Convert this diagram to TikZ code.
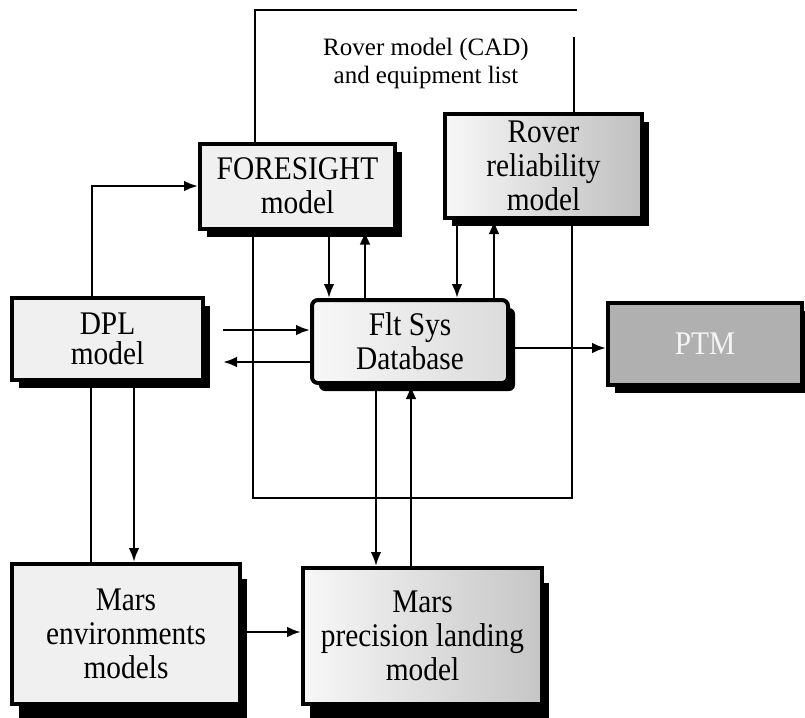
\documentclass[tikz,border=0pt]{standalone}
\usepackage{fontspec}
\setmainfont{Liberation Serif}[FakeStretch=0.89]
\newfontfamily\notefont{Liberation Serif}
\usepackage{tikz}
\usetikzlibrary{arrows.meta,shadows}

\begin{document}
\begin{tikzpicture}
[x=0.5pt,y=-0.5pt,line width=1.3pt,>={Latex[length=7pt,width=5.4pt]}]
\tikzset{
	block/.style = {draw, line width=2pt, fill=gray!12, align=center, inner sep=0pt,
		font=\fontsize{16.5}{17}\selectfont,
		drop shadow={shadow xshift=3.5pt, shadow yshift=#1, fill=black, opacity=1}},
	block/.default = -4pt,
	darkside/.style = {shade, left color=gray!6, right color=gray!#1},
	note/.style = {align=center, font=\notefont\fontsize{12.5}{14}\selectfont}
}
\useasboundingbox (0,0) rectangle (805,718);

\node (fore) [block, minimum width=97.5pt, minimum height=42.5pt] at (297.5,186) {FORESIGHT\\model};
\node (rover) [block, darkside=50, minimum width=98.5pt, minimum height=52pt] at (543.5,166) {Rover\\reliability\\model};
\node (dpl) [block, minimum width=95.5pt, minimum height=41pt, font=\fontsize{16.5}{15}\selectfont] at (107.5,339) {DPL\\model};
\node (flt) [block, darkside=28, rounded corners=3pt, minimum width=98pt, minimum height=41.5pt] at (410,341.5) {Flt Sys\\Database};
\node (ptm) [block, fill=gray!62, text=gray!8, minimum width=97pt, minimum height=41pt] at (705,344) {PTM};
\node (env) [block=-7.5pt, minimum width=114pt, minimum height=70pt] at (126,634) {Mars\\environments\\models};
\node (land) [block=-7.5pt, darkside=45, minimum width=119.5pt, minimum height=68pt] at (422.5,636) {Mars\\precision landing\\model};
\node (cad) [note] at (426,63) {Rover model (CAD)\\and equipment list};

\coordinate (capL) at (577,10);
\coordinate (capR) at (574,37);
\coordinate (loopL) at (253,498);
\coordinate (loopR) at (572,498);

\draw (fore.north -| 255,0) |- (capL);
\draw [line width=0.8pt] (capR) -- (rover.north -| capR);
\draw (fore.south -| loopL) -- (loopL) -- (loopR) -- (rover.south -| loopR);

\draw [->] (dpl.north -| 92,0) |- (fore.west);
\draw [->] (fore.south -| 329,0) -- (flt.north -| 329,0);
\draw [->] (flt.north -| 365,0) -- (fore.south -| 365,0);
\draw [->] (rover.south -| 457,0) -- (flt.north -| 457,0);
\draw [->] (flt.north -| 494,0) -- (rover.south -| 494,0);
\draw [->, shorten <=9pt] (dpl.east |- 0,330) -- (flt.west |- 0,330);
\draw [->, shorten >=9pt] (flt.west |- 0,362) -- (dpl.east |- 0,362);
\draw [->] (flt.east |- 0,348) -- (ptm.west |- 0,348);
\draw (dpl.south -| 91,0) -- (env.north -| 91,0);
\draw [->] (dpl.south -| 134,0) -- (env.north -| 134,0);
\draw [->] (flt.south -| 376,0) -- (land.north -| 376,0);
\draw [->] (land.north -| 411,0) -- (flt.south -| 411,0);
\draw [->] (env.east |- 0,632) -- (land.west |- 0,632);
\end{tikzpicture}
\end{document}
